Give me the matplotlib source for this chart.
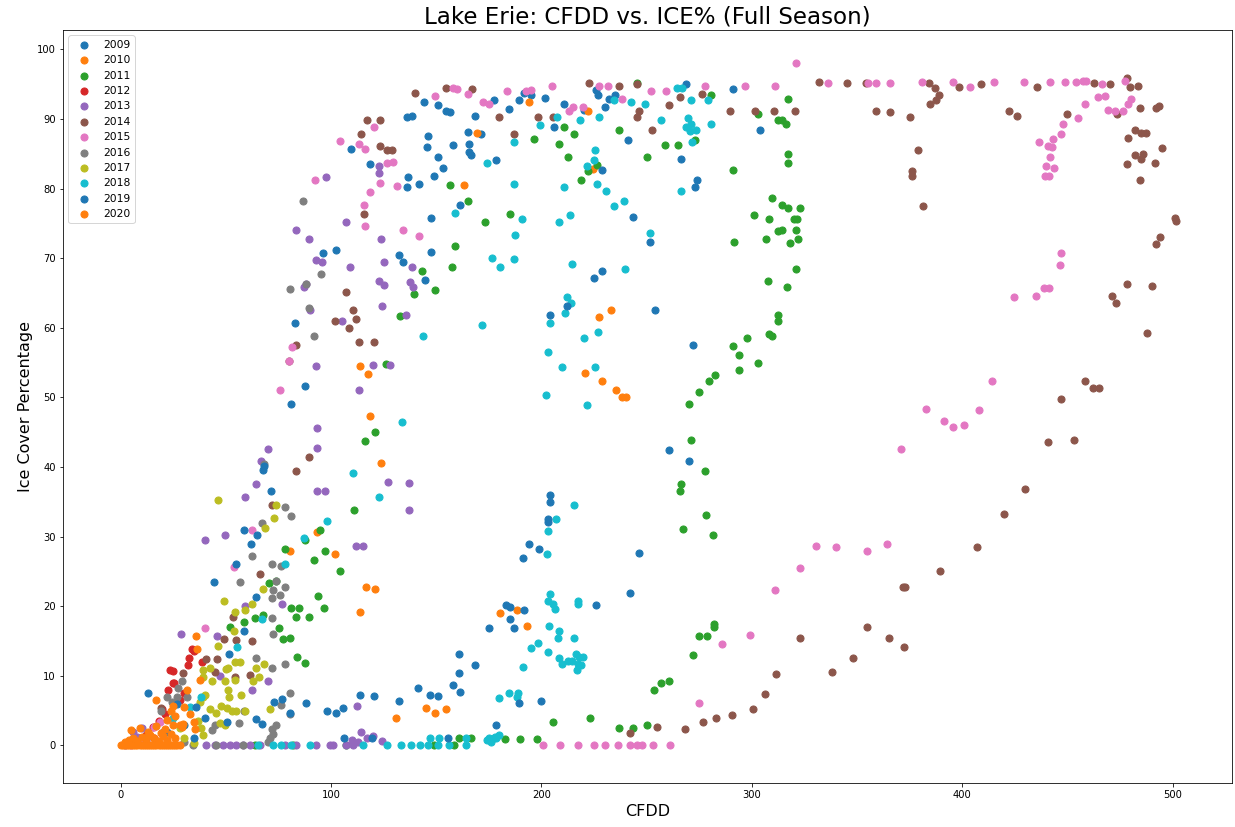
import matplotlib
matplotlib.use("Agg")
import matplotlib.pyplot as plt

# (CFDD, ice cover %) pairs for each season
y2009 = [(81.2, 49.0), (87.8, 51.7), (83.1, 60.7), (96.2, 70.7), (102.2, 71.2), (109.3, 85.7), (118.3, 83.5),
         (132.1, 70.4), (134.1, 69.4), (136.5, 81.7), (136.0, 80.2), (141.6, 80.7), (136.0, 90.3), (138.4, 90.4),
         (144.1, 92.4), (144.8, 66.9), (145.5, 86.0), (146.3, 87.5), (147.6, 75.8), (147.6, 70.9), (148.7, 81.8),
         (150.7, 92.0), (150.7, 84.6), (153.1, 82.9), (154.7, 91.2), (156.3, 91.0), (157.9, 86.3), (161.4, 77.7),
         (165.0, 88.1), (165.8, 86.4), (165.8, 85.2), (166.3, 84.9), (168.5, 90.5), (171.3, 87.8), (177.3, 92.7),
         (178.5, 84.1), (184.4, 91.5), (189.5, 92.7), (191.9, 93.7), (195.0, 93.5), (201.7, 93.0), (206.1, 88.9),
         (210.5, 92.2), (220.0, 91.3), (225.9, 94.2), (226.7, 93.5), (230.3, 91.8), (231.9, 92.9), (234.9, 93.5),
         (240.9, 87.0), (268.6, 95.0), (290.8, 94.3), (303.7, 88.4), (266.2, 84.3), (274.0, 81.3), (273.0, 80.2)]

y2010 = [(93.3, 30.6), (80.7, 28.0), (101.7, 27.5), (113.9, 19.2), (116.4, 22.7), (121.0, 22.5), (118.3, 47.3),
         (123.9, 40.6), (113.9, 54.5), (117.5, 53.3), (131.0, 3.9), (144.9, 5.4), (149.6, 4.6), (154.7, 5.3),
         (163.4, 80.5), (169.4, 88.0), (193.9, 92.4), (180.5, 19.0), (188.2, 19.4), (193.0, 17.1), (222.0, 91.2),
         (224.3, 82.8), (227.5, 61.5), (233.0, 62.6), (220.8, 53.5), (229.0, 52.4), (235.4, 51.1), (238.5, 50.0),
         (240.2, 50.0)]

y2011 = [(245.2, 95.2), (280.8, 93.5), (317.3, 92.9), (302.9, 90.7), (312.6, 89.8), (314.2, 89.8), (316.1, 89.3),
         (210.5, 88.9), (215.5, 87.8), (196.6, 87.2), (208.2, 86.4), (237.0, 88.4), (258.7, 86.3), (265.1, 86.3),
         (273.0, 87.0), (212.6, 84.6), (250.3, 84.5), (317.2, 85.0), (317.2, 83.7), (291.1, 82.7), (226.4, 83.4),
         (222.0, 82.6), (218.8, 81.2), (185.1, 76.4), (173.4, 75.2), (309.7, 78.7), (314.2, 77.7), (317.3, 77.2),
         (322.7, 77.2), (301.1, 76.2), (308.2, 75.7), (320.0, 75.7), (321.6, 75.7), (312.6, 73.9), (314.5, 74.0),
         (321.1, 74.0), (306.6, 72.7), (318.0, 72.2), (322.1, 72.8), (291.5, 72.4), (320.8, 68.5), (307.7, 66.7),
         (316.6, 65.8), (312.6, 61.8), (312.6, 61.0), (308.2, 59.1), (309.7, 58.9), (297.6, 58.6), (291.1, 57.4),
         (293.9, 56.1), (303.1, 54.9), (293.9, 54.0), (282.4, 53.2), (279.4, 52.4), (274.9, 50.8), (270.2, 49.1),
         (271.3, 43.9), (277.5, 39.5), (266.2, 37.5), (265.8, 36.5), (278.4, 33.1), (267.5, 31.1), (281.3, 30.3),
         (282.1, 17.5), (282.1, 17.0), (274.9, 15.7), (278.6, 15.7), (271.8, 13.0), (260.7, 9.2), (256.8, 9.0),
         (253.4, 8.0), (250.4, 2.9), (243.6, 2.5), (237.0, 2.5), (223.2, 3.9), (205.6, 3.3), (197.7, 0.9),
         (190.0, 0.9), (182.9, 0.9), (176.6, 0.9), (161.0, 1.0), (166.3, 1.0), (158.2, 0.0), (148.8, 0.0),
         (107.3, 0.0), (81.9, 0.0), (63.9, 0.0), (121.0, 45.1), (116.0, 43.8), (110.7, 33.8), (94.9, 31.0),
         (87.5, 29.5), (97.3, 28.0), (91.7, 26.6), (104.4, 25.1), (78.0, 28.2), (70.5, 23.3), (74.0, 23.6),
         (93.8, 21.4), (84.8, 19.8), (80.8, 19.8), (83.5, 18.5), (89.5, 18.5), (96.8, 19.7), (63.7, 18.3),
         (67.7, 18.8), (75.1, 16.9), (77.2, 15.3), (80.7, 15.5), (84.0, 12.7), (87.5, 11.8), (58.5, 17.7),
         (51.9, 17.0), (156.3, 80.5), (165.3, 78.2), (158.8, 71.7), (157.6, 68.7), (143.1, 68.2), (149.6, 65.4),
         (139.2, 64.8), (133.0, 61.7), (126.2, 54.8)]

y2012 = [(23.4, 10.8), (24.7, 10.7), (32.6, 12.5), (32.1, 11.6), (34.9, 13.6), (33.7, 13.8), (38.7, 12.0),
         (25.0, 9.0), (25.3, 8.9), (22.6, 7.9), (19.5, 5.3), (15.5, 2.6), (12.0, 1.5), (8.0, 0.5), (5.0, 0.2),
         (18.0, 3.5), (21.0, 4.5), (28.0, 6.5), (30.0, 7.5), (16.0, 1.0), (10.0, 0.3)]

y2013 = [(97.8, 81.7), (122.7, 83.2), (122.7, 82.3), (107.3, 75.2), (83.5, 74.1), (89.5, 72.7), (123.9, 72.7),
         (93.0, 69.7), (95.9, 69.5), (108.8, 68.7), (125.4, 69.5), (138.6, 68.7), (122.6, 66.8), (125.0, 66.2),
         (137.3, 66.6), (138.9, 65.8), (87.0, 65.8), (88.3, 66.3), (124.3, 63.2), (90.2, 62.5), (105.2, 61.0),
         (135.7, 61.9), (119.9, 54.7), (127.8, 54.7), (93.0, 54.5), (113.2, 51.1), (93.3, 45.6), (93.3, 42.8),
         (69.8, 42.6), (66.9, 40.8), (64.5, 37.5), (93.3, 36.6), (97.3, 36.6), (127.0, 37.8), (137.0, 37.7),
         (137.0, 33.8), (59.0, 35.7), (49.8, 30.3), (40.3, 29.5), (112.0, 28.6), (115.0, 28.6), (28.9, 16.0),
         (46.0, 15.7), (59.3, 20.1), (76.9, 20.3), (70.1, 9.2), (62.5, 8.0), (47.1, 10.0), (112.5, 5.7),
         (114.4, 1.9), (113.0, 0.5), (117.0, 1.0), (120.0, 1.3), (124.0, 0.6), (110.0, 0.8), (6.0, 1.9),
         (10.0, 2.5), (40.8, 0.0), (44.8, 0.0), (48.7, 0.0), (51.9, 0.0), (55.0, 0.0), (58.2, 0.0), (61.4, 0.0),
         (66.1, 0.0), (78.0, 0.0), (83.5, 0.0), (93.0, 0.0), (99.3, 0.0), (100.9, 0.0), (107.3, 0.0),
         (110.4, 0.0), (2.0, 0.0), (5.0, 0.5), (8.0, 1.2), (12.0, 0.8)]

y2014 = [(139.7, 93.8), (154.7, 94.5), (167.0, 94.3), (180.0, 90.3), (117.0, 89.8), (123.4, 89.9), (114.4, 87.8),
         (123.4, 86.1), (126.5, 85.5), (128.9, 85.5), (115.5, 76.3), (107.3, 65.2), (110.4, 62.6), (112.0, 61.3),
         (101.7, 61.0), (108.4, 60.0), (113.2, 58.0), (120.4, 58.0), (83.5, 57.6), (80.0, 55.2), (187.1, 87.8),
         (198.2, 90.3), (205.6, 90.3), (222.7, 95.2), (237.0, 94.8), (245.2, 95.0), (246.5, 91.2), (245.6, 90.3),
         (252.5, 88.4), (260.7, 92.0), (265.8, 93.2), (276.2, 93.6), (289.5, 91.1), (301.5, 91.1), (310.5, 91.1),
         (320.5, 91.1), (331.9, 95.3), (345.3, 95.2), (354.3, 95.2), (358.8, 91.1), (365.6, 91.0), (375.1, 90.3),
         (378.9, 85.5), (376.2, 82.5), (376.2, 81.8), (381.3, 77.5), (384.1, 95.2), (386.9, 94.5), (388.8, 93.5),
         (387.6, 92.8), (384.9, 92.2), (398.3, 94.6), (408.9, 95.0), (422.1, 91.1), (426.0, 90.4), (435.5, 94.6),
         (449.7, 90.7), (462.4, 95.2), (470.3, 95.0), (473.5, 90.8), (478.5, 95.9), (479.8, 94.6), (483.3, 94.8),
         (484.6, 91.6), (492.2, 91.6), (493.3, 91.9), (482.2, 88.4), (485.0, 88.0), (487.2, 88.0), (479.0, 87.3),
         (494.8, 85.8), (482.2, 84.8), (486.1, 85.0), (485.0, 84.3), (478.2, 83.5), (491.7, 83.7), (484.6, 81.3),
         (501.2, 75.8), (501.7, 75.4), (494.1, 73.0), (492.2, 72.0), (478.5, 66.3), (490.4, 66.0), (471.1, 64.6),
         (473.2, 63.6), (487.7, 59.2), (458.5, 52.3), (461.9, 51.4), (465.1, 51.4), (446.9, 49.8), (440.7, 43.6),
         (452.9, 43.9), (429.7, 36.8), (419.7, 33.3), (407.0, 28.5), (389.3, 25.0), (371.9, 22.7), (373.0, 22.7),
         (354.5, 17.0), (365.1, 15.5), (372.2, 14.2), (323.0, 15.4), (348.0, 12.5), (338.2, 10.5), (311.6, 10.2),
         (306.1, 7.4), (300.6, 5.2), (290.7, 4.3), (282.9, 3.9), (276.8, 3.3), (268.2, 2.4), (254.9, 2.7),
         (242.0, 1.8), (89.5, 41.4), (83.5, 39.5), (71.7, 34.6), (66.1, 24.6), (53.2, 18.5), (49.0, 15.3),
         (55.0, 15.2), (62.5, 15.0), (40.5, 12.4), (45.6, 12.4), (44.8, 10.5), (54.3, 9.8), (61.4, 10.1),
         (29.4, 10.4), (19.1, 5.4)]

y2015 = [(15.8, 2.6), (18.6, 3.3), (40.3, 16.9), (54.0, 25.7), (62.3, 31.0), (75.6, 51.1), (80.0, 55.3),
         (81.6, 57.2), (92.2, 81.3), (104.4, 86.8), (113.2, 86.4), (116.0, 85.7), (120.5, 88.9), (118.3, 79.5),
         (115.5, 77.7), (116.0, 74.7), (123.4, 80.8), (126.5, 83.7), (129.4, 83.8), (131.5, 80.4), (134.1, 74.0),
         (141.6, 73.2), (149.2, 93.3), (157.9, 94.5), (159.8, 94.3), (165.3, 93.6), (172.4, 92.5), (175.0, 92.1),
         (183.5, 94.1), (192.7, 94.0), (195.0, 94.2), (205.0, 94.8), (213.2, 91.2), (214.8, 91.8), (219.9, 91.8),
         (227.2, 94.8), (231.4, 94.8), (238.5, 92.9), (252.0, 94.0), (259.1, 94.0), (277.5, 94.7), (296.6, 94.8),
         (311.0, 94.8), (320.8, 98.0), (336.3, 95.2), (355.3, 95.2), (359.1, 95.2), (365.6, 95.2), (380.9, 95.3),
         (395.6, 95.3), (403.9, 94.6), (415.3, 95.3), (429.2, 95.3), (441.9, 95.3), (449.0, 95.3), (454.0, 95.3),
         (457.2, 95.4), (458.8, 95.4), (466.4, 95.0), (477.5, 95.4), (480.1, 92.9), (478.7, 92.1), (476.6, 91.1),
         (472.7, 91.1), (469.1, 91.3), (468.0, 93.3), (464.4, 93.2), (458.4, 92.1), (455.0, 90.1), (448.0, 89.3),
         (446.7, 87.8), (443.1, 87.2), (442.6, 86.0), (440.7, 86.2), (436.3, 86.7), (441.9, 84.5), (439.8, 83.3),
         (443.8, 82.9), (439.5, 81.8), (441.0, 81.8), (446.9, 70.7), (446.3, 69.0), (438.7, 65.7), (441.4, 65.7),
         (435.2, 64.6), (424.8, 64.4), (414.2, 52.4), (382.8, 48.4), (408.1, 48.2), (391.2, 46.6), (395.6, 45.8),
         (401.0, 46.1), (370.7, 42.6), (354.5, 28.0), (364.0, 29.0), (330.3, 28.7), (339.8, 28.5), (322.7, 25.5),
         (311.0, 22.4), (299.0, 15.8), (285.7, 14.6), (274.9, 6.1), (200.6, 0.0), (208.8, 0.0), (217.5, 0.0),
         (224.8, 0.0), (230.3, 0.0), (236.5, 0.0), (242.0, 0.0), (245.2, 0.0), (248.0, 0.0), (253.1, 0.0),
         (261.2, 0.0), (5.0, 0.0), (10.0, 0.5)]

y2016 = [(86.7, 78.2), (95.1, 67.7), (88.3, 66.3), (80.7, 65.6), (89.5, 62.9), (91.7, 58.8), (68.0, 40.5),
         (78.0, 34.2), (81.2, 32.9), (67.4, 32.0), (62.5, 27.2), (71.9, 26.0), (76.1, 25.8), (56.6, 23.5),
         (74.0, 23.6), (78.0, 22.7), (72.4, 22.3), (75.6, 21.6), (72.1, 21.2), (72.1, 18.3), (72.4, 16.0),
         (64.1, 12.5), (71.7, 11.1), (78.0, 11.7), (29.0, 9.3), (27.3, 8.3), (26.6, 6.9), (21.8, 6.9),
         (24.2, 6.2), (19.1, 5.0), (76.4, 5.8), (80.7, 7.6), (80.7, 4.5), (74.0, 2.9), (71.7, 2.4), (72.4, 1.7),
         (70.9, 1.1), (70.0, 0.5), (56.3, 3.2), (44.8, 2.9), (43.2, 2.2), (34.2, 0.0), (45.1, 0.0), (58.2, 0.0),
         (31.3, 6.9), (58.5, 5.0), (12.0, 1.0), (20.0, 2.0), (30.0, 0.5)]

y2017 = [(46.3, 35.2), (74.0, 34.5), (72.8, 32.7), (68.8, 31.2), (67.7, 22.5), (62.6, 20.3), (49.0, 20.8),
         (59.0, 19.5), (54.3, 19.2), (53.9, 16.4), (46.3, 14.3), (50.8, 11.1), (39.2, 10.9), (42.4, 11.1),
         (39.2, 9.8), (43.2, 9.3), (49.5, 9.3), (54.3, 9.4), (56.6, 12.0), (54.3, 12.0), (50.0, 11.0),
         (64.2, 11.1), (65.8, 9.8), (68.2, 11.7), (62.9, 9.2), (51.1, 7.9), (51.5, 6.9), (57.0, 7.2),
         (47.9, 5.7), (50.6, 5.4), (52.7, 5.0), (55.0, 4.9), (59.3, 5.0), (37.6, 6.2), (39.2, 6.9), (40.0, 7.2),
         (42.4, 5.3), (45.1, 4.6), (70.9, 5.3), (47.1, 3.2), (38.0, 2.5), (37.0, 3.5), (39.0, 1.5), (49.5, 2.9),
         (30.0, 1.0), (35.0, 0.3), (28.0, 2.5)]

y2018 = [(264.2, 94.5), (267.0, 94.5), (279.1, 92.7), (271.3, 92.7), (242.5, 92.5), (249.2, 92.1), (234.6, 92.7),
         (207.2, 90.3), (218.3, 89.9), (227.5, 90.3), (199.5, 89.1), (256.8, 89.8), (269.7, 90.2), (271.3, 89.3),
         (268.6, 88.8), (273.4, 88.4), (270.5, 88.3), (271.7, 86.7), (280.8, 89.3), (186.8, 86.7), (174.0, 83.7),
         (225.4, 85.6), (224.8, 84.1), (221.6, 83.2), (186.8, 80.7), (210.5, 80.2), (226.4, 80.7), (230.9, 79.6),
         (234.7, 77.5), (239.2, 78.2), (266.2, 79.6), (190.6, 75.7), (208.2, 75.2), (213.7, 76.2), (187.5, 73.4),
         (251.4, 73.7), (176.4, 70.0), (180.3, 68.7), (186.8, 69.9), (214.3, 69.2), (239.7, 68.4), (212.1, 64.4),
         (214.0, 63.6), (211.3, 62.2), (204.2, 60.7), (171.6, 60.4), (220.4, 58.6), (227.0, 59.4), (203.3, 56.6),
         (209.9, 54.4), (225.4, 54.4), (202.3, 50.3), (221.5, 48.9), (215.5, 34.5), (206.7, 32.5), (203.3, 30.8),
         (202.8, 27.5), (204.2, 21.8), (203.0, 20.7), (205.3, 20.3), (206.6, 19.6), (217.5, 20.7), (217.5, 20.3),
         (203.7, 17.1), (208.2, 16.5), (207.7, 15.5), (215.5, 15.5), (195.0, 14.0), (198.4, 14.7), (203.3, 13.4),
         (208.5, 12.5), (209.8, 11.7), (212.4, 12.2), (214.5, 12.2), (216.4, 13.2), (217.7, 12.7), (219.6, 12.7),
         (217.2, 11.7), (218.8, 11.5), (216.9, 10.8), (191.1, 11.3), (184.4, 7.6), (189.0, 7.5), (188.2, 7.0),
         (180.0, 6.8), (176.0, 0.5), (178.0, 1.2), (180.0, 1.5), (174.0, 0.8), (133.6, 46.5), (110.4, 39.1),
         (122.6, 35.7), (98.2, 32.3), (87.0, 29.8), (78.0, 26.1), (67.4, 18.2), (55.3, 14.2), (32.9, 5.5),
         (65.3, 0.0), (72.4, 0.0), (76.4, 0.0), (81.2, 0.0), (89.8, 0.0), (115.1, 0.0), (126.5, 0.0),
         (133.4, 0.0), (138.1, 0.0), (142.1, 0.0), (146.0, 0.0), (150.7, 0.0), (156.0, 0.0), (164.2, 0.0),
         (146.8, 1.0), (151.5, 1.0), (164.2, 1.0), (175.3, 1.0), (178.5, 1.0), (159.1, 76.5), (143.6, 58.9),
         (38.0, 7.0), (25.0, 4.0)]

y2019 = [(13.1, 7.6), (44.3, 23.5), (51.4, 13.2), (54.7, 26.1), (58.5, 30.9), (58.5, 16.5), (61.8, 29.0),
         (64.1, 21.3), (64.8, 30.3), (67.7, 39.6), (68.0, 40.1), (71.3, 36.6), (72.8, 6.2), (76.7, 6.6),
         (80.7, 4.7), (88.3, 6.1), (98.2, 5.0), (102.2, 4.7), (105.6, 5.4), (113.9, 7.2), (120.4, 7.1),
         (132.1, 6.4), (141.2, 8.3), (146.8, 7.3), (150.7, 7.1), (157.9, 8.7), (161.5, 7.7), (160.6, 13.2),
         (161.0, 10.4), (168.5, 11.6), (175.3, 16.9), (187.1, 16.9), (185.1, 18.2), (183.2, 20.2), (185.2, 19.9),
         (191.9, 19.5), (189.5, 6.1), (200.0, 6.4), (178.5, 3.0), (193.9, 29.0), (198.7, 28.2), (191.1, 27.0),
         (203.3, 32.6), (203.3, 32.1), (204.2, 36.0), (204.2, 35.0), (212.1, 63.2), (204.2, 61.9), (224.8, 67.1),
         (228.7, 68.1), (228.7, 82.7), (243.6, 76.0), (251.4, 72.4), (254.1, 62.6), (271.8, 57.6), (260.7, 42.4),
         (270.0, 40.9), (246.5, 27.7), (242.0, 21.9), (225.9, 20.2), (50.6, 3.4), (64.1, 3.8), (67.4, 3.1),
         (106.1, 1.0), (119.4, 1.0), (155.8, 1.0), (22.0, 2.0), (30.0, 3.0), (35.0, 1.0), (40.0, 4.0),
         (27.0, 6.0), (36.0, 5.5)]

y2020 = [(0, 0), (1, 0), (2, 0), (3, 0), (4, 0), (5, 0), (6, 0), (7, 0), (8, 0), (9, 0), (10, 0), (11, 0),
         (12, 0), (13, 0), (14, 0), (15, 0), (16, 0), (17, 0), (18, 0), (19, 0), (20, 0), (21, 0), (22, 0),
         (23, 0), (24, 0), (25, 0), (26, 0), (27, 0), (28, 0), (2, 0.5), (4, 0.8), (6, 1.0), (8, 0.6),
         (10, 1.2), (12, 0.9), (14, 1.5), (16, 1.0), (18, 0.7), (20, 1.3), (22, 0.8), (24, 1.6), (26, 1.1),
         (5, 2.2), (9, 2.5), (13, 1.9), (17, 2.8), (21, 2.3), (25, 3.0), (29, 2.6), (16.6, 6.5), (31.6, 7.9),
         (36.0, 15.7), (36.5, 13.9), (37.6, 9.4), (30, 5.5), (33, 4.5), (35, 3.4), (28, 3.0), (26, 4.2),
         (24, 5.0), (22, 3.6), (19, 1.8), (24.8, 5.7), (29.6, 3.1), (35.3, 2.4)]

seasons = ['2009', '2010', '2011', '2012', '2013', '2014', '2015', '2016', '2017', '2018', '2019', '2020']
points = [y2009, y2010, y2011, y2012, y2013, y2014, y2015, y2016, y2017, y2018, y2019, y2020]

fig = plt.figure(figsize=(1235 / 72, 827 / 72), dpi=72)
ax = fig.add_axes([63 / 1235, 1 - 783 / 827, (1232 - 63) / 1235, (783 - 30) / 827])

for name, pts in zip(seasons, points):
    cfdd = [p[0] for p in pts]
    ice = [p[1] for p in pts]
    ax.scatter(cfdd, ice, s=50, label=name)

ax.set_xlim(-27.4, 528.2)
ax.set_ylim(-5.4, 102.8)
ax.set_title("Lake Erie: CFDD vs. ICE% (Full Season)", fontsize=23)
ax.set_xlabel("CFDD", fontsize=16)
ax.set_ylabel("Ice Cover Percentage", fontsize=16)
ax.set_yticks(range(0, 101, 10))
ax.legend(loc="upper left", fontsize=10.8)

fig.savefig("out.png", dpi=72)
